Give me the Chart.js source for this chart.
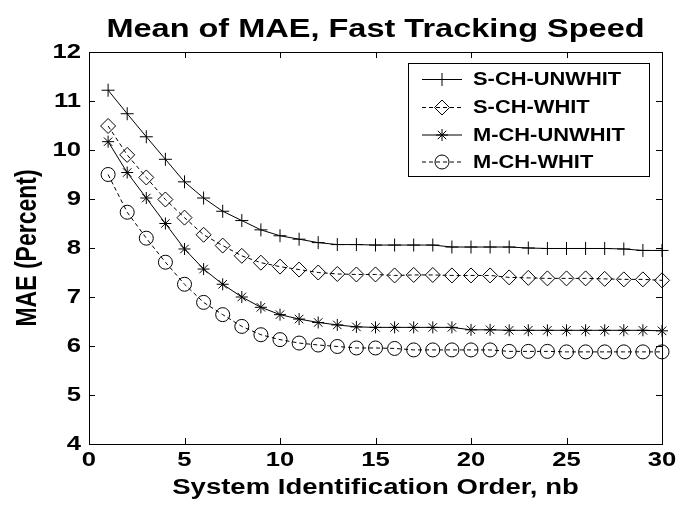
<!DOCTYPE html>
<html>
<head>
<meta charset="utf-8">
<script src="https://cdn.jsdelivr.net/npm/chart.js@4/dist/chart.umd.min.js"></script>
<style>
  html, body { margin: 0; background: #fff; }
  #wrap { width: 691px; height: 508px; }
</style>
</head>
<body>
<div id="wrap"><canvas id="maeChart" width="691" height="508"></canvas></div>
<script>
// model order nb
const orders = [1, 2, 3, 4, 5, 6, 7, 8, 9, 10, 11, 12, 13, 14, 15,
                16, 17, 18, 19, 20, 21, 22, 23, 24, 25, 26, 27, 28, 29, 30];

// mean absolute error (%) per configuration
const sChUnwhit = [11.22, 10.74, 10.27, 9.81, 9.35, 9.02, 8.75, 8.56, 8.37, 8.25,
                   8.18, 8.11, 8.07, 8.07, 8.06, 8.06, 8.06, 8.06, 8.02, 8.02,
                   8.02, 8.02, 8.00, 7.99, 7.99, 7.99, 7.99, 7.98, 7.95, 7.95];
const sChWhit   = [10.49, 9.90, 9.44, 8.99, 8.62, 8.27, 8.05, 7.84, 7.70, 7.62,
                   7.56, 7.50, 7.47, 7.46, 7.46, 7.44, 7.45, 7.45, 7.44, 7.44,
                   7.44, 7.40, 7.39, 7.38, 7.38, 7.38, 7.37, 7.36, 7.36, 7.34];
const mChUnwhit = [10.17, 9.54, 9.02, 8.50, 7.98, 7.57, 7.26, 7.00, 6.79, 6.64,
                   6.55, 6.48, 6.43, 6.39, 6.38, 6.38, 6.38, 6.38, 6.38, 6.33,
                   6.33, 6.32, 6.32, 6.32, 6.32, 6.32, 6.32, 6.32, 6.32, 6.31];
const mChWhit   = [9.50, 8.73, 8.20, 7.71, 7.26, 6.89, 6.64, 6.40, 6.23, 6.13,
                   6.06, 6.02, 5.99, 5.96, 5.96, 5.95, 5.92, 5.92, 5.92, 5.92,
                   5.92, 5.89, 5.89, 5.89, 5.88, 5.88, 5.88, 5.88, 5.88, 5.88];

const xTicks = [0, 5, 10, 15, 20, 25, 30];
const yTicks = [4, 5, 6, 7, 8, 9, 10, 11, 12];

const FONT = "'Liberation Sans', Arial, sans-serif";
const STRETCH = 1.25; // the figure's lettering is drawn wide

const series = [
  { label: 'S-CH-UNWHIT', data: sChUnwhit, style: 'cross',   radius: 6.5, dash: [] },
  { label: 'S-CH-WHIT',   data: sChWhit,   style: 'rectRot', radius: 7.5, dash: [4, 3] },
  { label: 'M-CH-UNWHIT', data: mChUnwhit, style: 'star',    radius: 6,   dash: [] },
  { label: 'M-CH-WHIT',   data: mChWhit,   style: 'circle',  radius: 7,   dash: [4, 3] }
];

const canvas = document.getElementById('maeChart');
const ctx = canvas.getContext('2d');

// widen every piece of text around its anchor point
const plainFillText = ctx.fillText;
ctx.fillText = function (text, x, y) {
  const m = this.getTransform();
  const p = m.transformPoint(new DOMPoint(x, y));
  this.save();
  this.setTransform(1, 0, 0, 1, 0, 0);
  this.translate(p.x, p.y);
  this.scale(STRETCH, 1);
  this.transform(m.a, m.b, m.c, m.d, 0, 0);
  plainFillText.call(this, text, 0, 0);
  this.restore();
};

// box, inward ticks, title and legend
const framePlugin = {
  id: 'frame',
  afterDraw(chart) {
    const { ctx, chartArea: a, scales } = chart;
    const tick = 6;
    ctx.save();
    ctx.strokeStyle = '#000';
    ctx.lineWidth = 1;
    ctx.setLineDash([]);
    ctx.strokeRect(a.left + 0.5, a.top + 0.5, a.right - a.left, a.bottom - a.top);
    ctx.beginPath();
    xTicks.forEach(v => {
      const px = Math.round(scales.x.getPixelForValue(v)) + 0.5;
      ctx.moveTo(px, a.bottom); ctx.lineTo(px, a.bottom - tick);
      ctx.moveTo(px, a.top); ctx.lineTo(px, a.top + tick);
    });
    yTicks.forEach(v => {
      const py = Math.round(scales.y.getPixelForValue(v)) + 0.5;
      ctx.moveTo(a.left, py); ctx.lineTo(a.left + tick, py);
      ctx.moveTo(a.right, py); ctx.lineTo(a.right - tick, py);
    });
    ctx.stroke();

    // title
    ctx.fillStyle = '#000';
    ctx.font = 'bold 26px ' + FONT;
    ctx.textAlign = 'center';
    ctx.textBaseline = 'alphabetic';
    ctx.fillText('Mean of MAE, Fast Tracking Speed', (a.left + a.right) / 2, 37);

    // legend
    const box = { x: 408.5, y: 63.5, w: 241, h: 113 };
    ctx.fillStyle = '#fff';
    ctx.fillRect(box.x, box.y, box.w, box.h);
    ctx.strokeRect(box.x, box.y, box.w, box.h);
    const rows = [79.5, 107.5, 135, 162];
    series.forEach((s, i) => {
      const y = rows[i];
      ctx.setLineDash(s.dash);
      ctx.beginPath();
      ctx.moveTo(422, y); ctx.lineTo(462, y);
      ctx.stroke();
      ctx.setLineDash([]);
      ctx.fillStyle = 'rgba(0,0,0,0)';
      Chart.helpers.drawPoint(ctx, { pointStyle: s.style, radius: s.radius, borderWidth: 1, rotation: 0 }, 442, y);
      ctx.fillStyle = '#000';
      ctx.font = 'bold 17.5px ' + FONT;
      ctx.textAlign = 'left';
      ctx.textBaseline = 'middle';
      ctx.fillText(s.label, 473, y + 1);
    });
    ctx.restore();
  }
};

new Chart(ctx, {
  type: 'line',
  data: {
    datasets: series.map(s => ({
      label: s.label,
      data: orders.map((o, i) => ({ x: o, y: s.data[i] })),
      borderColor: '#000',
      borderWidth: 1,
      borderDash: s.dash,
      tension: 0,
      pointStyle: s.style,
      pointRadius: s.radius,
      pointHoverRadius: s.radius,
      pointBorderWidth: 1,
      pointBorderColor: '#000',
      pointBackgroundColor: 'rgba(0,0,0,0)',
      clip: false
    }))
  },
  options: {
    responsive: false,
    animation: false,
    layout: { padding: { top: 52, right: 29, left: 0, bottom: 0 } },
    plugins: {
      legend: { display: false },
      title: { display: false },
      tooltip: { enabled: false }
    },
    scales: {
      x: {
        type: 'linear',
        min: 0,
        max: 30,
        afterBuildTicks: s => { s.ticks = xTicks.map(v => ({ value: v })); },
        afterFit: s => { s.height = 64; },
        grid: { display: false, drawTicks: false },
        border: { display: false },
        ticks: { color: '#000', padding: 4, font: { family: FONT, size: 20.5, weight: 'bold' } },
        title: {
          display: true,
          text: 'System Identification Order, nb',
          color: '#000',
          padding: { bottom: 7 },
          font: { family: FONT, size: 22, weight: 'bold' }
        }
      },
      y: {
        min: 4,
        max: 12,
        afterBuildTicks: s => { s.ticks = yTicks.map(v => ({ value: v })); },
        afterFit: s => { s.width = 89; },
        grid: { display: false, drawTicks: false },
        border: { display: false },
        ticks: { color: '#000', padding: 8, font: { family: FONT, size: 20.5, weight: 'bold' } },
        title: {
          display: true,
          text: 'MAE (Percent)',
          color: '#000',
          padding: { top: 14 },
          font: { family: FONT, size: 23, weight: 'bold' }
        }
      }
    }
  },
  plugins: [framePlugin]
});
</script>
</body>
</html>
